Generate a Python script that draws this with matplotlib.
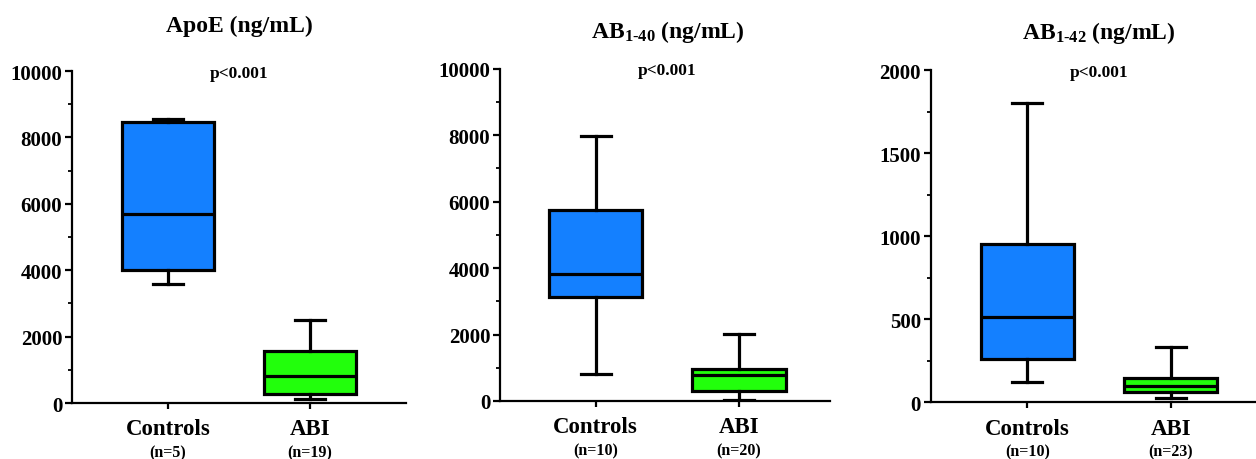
import matplotlib
matplotlib.use('Agg')
import matplotlib.pyplot as plt
from matplotlib.ticker import MultipleLocator
import matplotlib.transforms as mtransforms

# values (ng/mL): whisker low, Q1, median, Q3, whisker high
groups = ['Controls', 'ABI']
apoe_controls = [3600, 4000, 5700, 8450, 8570]
apoe_abi = [130, 270, 800, 1575, 2490]
ab40_controls = [820, 3140, 3830, 5750, 7960]
ab40_abi = [20, 310, 780, 960, 2030]
ab42_controls = [125, 260, 515, 950, 1800]
ab42_abi = [25, 65, 100, 145, 335]

titles = ['ApoE (ng/mL)', r'AB$_{\text{1-40}}$ (ng/mL)', r'AB$_{\text{1-42}}$ (ng/mL)']
n_labels = [['(n=5)', '(n=19)'], ['(n=10)', '(n=20)'], ['(n=10)', '(n=23)']]
y_max = [10000, 10000, 2000]
y_major = [2000, 2000, 500]
y_minor = [1000, 1000, 250]
p_text = 'p<0.001'

colors = ['#1480FF', '#22FF0C']

plt.rcParams['font.family'] = 'Liberation Serif'
plt.rcParams['font.weight'] = 'bold'
plt.rcParams['mathtext.fontset'] = 'custom'
plt.rcParams['mathtext.rm'] = 'Liberation Serif:bold'
plt.rcParams['mathtext.it'] = 'Liberation Serif:bold'
plt.rcParams['mathtext.bf'] = 'Liberation Serif:bold'

fig = plt.figure(figsize=(12.56, 4.6), dpi=100)

# axes boxes in figure fractions (left, bottom, width, height)
rects = [
    (0.0573, 0.1217, 0.2659, 0.7217),
    (0.3981, 0.1261, 0.2627, 0.7224),
    (0.7410, 0.1232, 0.2590, 0.7224),
]
xlims = [(0.324, 2.676), (0.332, 2.635), (0.326, 2.595)]
all_data = [(apoe_controls, apoe_abi), (ab40_controls, ab40_abi), (ab42_controls, ab42_abi)]
title_y = [1.12, 1.096, 1.095]

for i, (rect, (ctrl, abi)) in enumerate(zip(rects, all_data)):
    ax = fig.add_axes(rect)
    stats = []
    for name, vals in zip(groups, (ctrl, abi)):
        stats.append(dict(label=name, whislo=vals[0], q1=vals[1], med=vals[2],
                          q3=vals[3], whishi=vals[4], fliers=[]))
    bp = ax.bxp(stats, positions=[1, 2], widths=0.65, patch_artist=True,
                showfliers=False,
                boxprops=dict(linewidth=2.3, edgecolor='black'),
                medianprops=dict(linewidth=2.3, color='black'),
                whiskerprops=dict(linewidth=2.3, color='black'),
                capprops=dict(linewidth=2.3, color='black'),
                capwidths=0.21)
    for patch, c in zip(bp['boxes'], colors):
        patch.set_facecolor(c)

    ax.set_xlim(*xlims[i])
    ax.set_ylim(0, y_max[i])
    ax.yaxis.set_major_locator(MultipleLocator(y_major[i]))
    ax.yaxis.set_minor_locator(MultipleLocator(y_minor[i]))
    ax.spines['top'].set_visible(False)
    ax.spines['right'].set_visible(False)
    ax.spines['left'].set_linewidth(1.6)
    ax.spines['bottom'].set_linewidth(1.6)
    ax.tick_params(axis='y', which='major', length=5, width=1.6, pad=2, labelsize=15)
    ax.tick_params(axis='y', which='minor', length=3, width=1.3)
    ax.tick_params(axis='x', which='major', length=4, width=1.6, pad=7, labelsize=16.5)
    for lab in ax.get_xticklabels() + ax.get_yticklabels():
        lab.set_fontweight('bold')

    trans = mtransforms.blended_transform_factory(ax.transData, ax.transAxes)
    ax.text(1.5, title_y[i], titles[i], transform=trans, ha='center', va='baseline',
            fontsize=17, fontweight='bold', clip_on=False)
    ax.text(1.5, 0.995, p_text, transform=trans, ha='center', va='center',
            fontsize=12.5, fontweight='bold')
    for x, n in zip([1, 2], n_labels[i]):
        ax.text(x, -0.148, n, transform=trans, ha='center', va='center',
                fontsize=11.5, fontweight='bold', clip_on=False)

fig.savefig('out.png', dpi=100)
